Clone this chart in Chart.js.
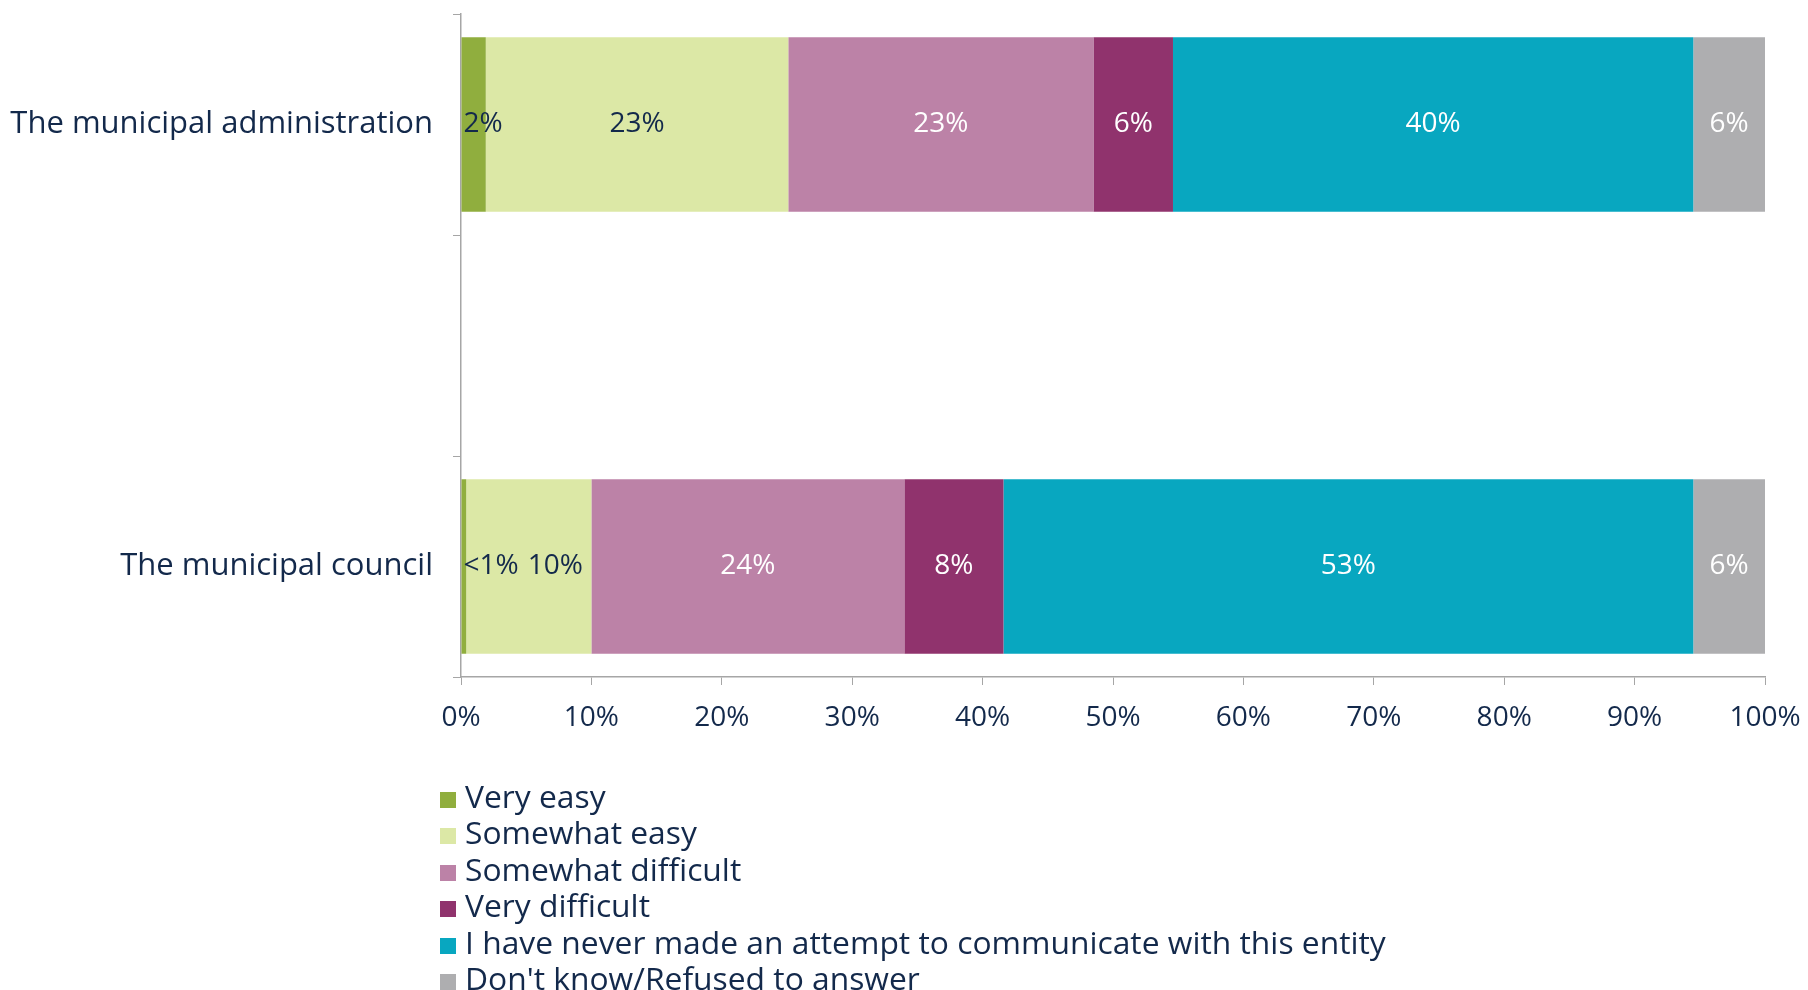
<!DOCTYPE html>
<html>
<head>
<meta charset="utf-8">
<script src="https://cdn.jsdelivr.net/npm/chart.js@4/dist/chart.umd.min.js"></script>
<style>
  body { margin: 0; background: #fff; }
  #wrap { position: relative; width: 1808px; height: 990px; }
  #legend { position: absolute; left: 440px; top: 778px; font-family: 'Open Sans', sans-serif; font-size: 31.8px; color: #13294b; }
  #legend div { height: 36.4px; line-height: 36.4px; white-space: nowrap; }
  #legend span { display: inline-block; width: 16px; height: 16px; margin-right: 9px; vertical-align: 0px; }
</style>
</head>
<body>
<div id="wrap">
  <canvas id="chart1" width="1808" height="990"></canvas>
  <div id="legend"></div>
</div>
<script>
// middle category is an empty spacer row, as in the original
const categories = ['The municipal administration', '', 'The municipal council'];
const seriesNames = ['Very easy', 'Somewhat easy', 'Somewhat difficult', 'Very difficult',
  'I have never made an attempt to communicate with this entity', "Don't know/Refused to answer"];
const veryEasy = [1.9, null, 0.4];
const somewhatEasy = [23.2, null, 9.6];
const somewhatDifficult = [23.4, null, 24.0];
const veryDifficult = [6.1, null, 7.6];
const neverAttempted = [39.9, null, 52.9];
const dontKnow = [5.5, null, 5.5];
const xTicks = [0, 10, 20, 30, 40, 50, 60, 70, 80, 90, 100];

const colors = ['#90ae3e', '#dce8a6', '#bc82a7', '#90336d', '#08a7c0', '#aeaeb0'];
const labelColors = ['#13294b', '#13294b', '#ffffff', '#ffffff', '#ffffff', '#ffffff'];
const textColor = '#13294b';
const font = "'Open Sans', sans-serif";

const values = [veryEasy, somewhatEasy, somewhatDifficult, veryDifficult, neverAttempted, dontKnow];

// value labels; tiny segments get a left-aligned label and neighbours are pushed right
const barLabels = {
    id: 'barLabels',
    afterDatasetsDraw(chart) {
        const c = chart.ctx;
        c.save();
        c.font = '28px ' + font;
        c.textBaseline = 'middle';
        const lastRight = {};
        chart.data.datasets.forEach((ds, i) => {
            const meta = chart.getDatasetMeta(i);
            meta.data.forEach((bar, j) => {
                const v = ds.data[j];
                if (v == null) return;
                const txt = v < 1 ? '<1%' : Math.round(v) + '%';
                const w = c.measureText(txt).width;
                let left = w > Math.abs(bar.x - bar.base) ? bar.base + 2 : (bar.x + bar.base) / 2 - w / 2;
                if (lastRight[j] != null && left < lastRight[j] + 9) left = lastRight[j] + 9;
                lastRight[j] = left + w;
                c.fillStyle = labelColors[i];
                c.textAlign = 'left';
                c.fillText(txt, left, bar.y);
            });
        });
        c.restore();
    }
};

const noPad = s => { s.paddingTop = 0; s.paddingBottom = 0; s.paddingLeft = 0; s.paddingRight = 0; };

const ctx = document.getElementById('chart1').getContext('2d');
const chart1 = new Chart(ctx, {
    type: 'bar',
    data: {
        labels: categories,
        datasets: seriesNames.map((name, i) => ({
            label: name,
            data: values[i],
            backgroundColor: colors[i],
            borderWidth: 0,
            categoryPercentage: 1,
            barPercentage: 0.79
        }))
    },
    options: {
        indexAxis: 'y',
        responsive: false,
        animation: false,
        layout: { padding: { top: 14, right: 43, bottom: 253, left: 0 } },
        scales: {
            x: {
                stacked: true,
                min: 0,
                max: 100,
                afterBuildTicks: s => { s.ticks = xTicks.map(v => ({ value: v })); },
                afterFit: s => { s.height = 60; noPad(s); },
                ticks: {
                    callback: v => v + '%',
                    color: textColor,
                    font: { family: font, size: 28 },
                    padding: 16,
                    maxRotation: 0
                },
                grid: { drawOnChartArea: false, tickLength: 8, color: '#a6a6a6' },
                border: { color: '#a6a6a6', width: 1.5 }
            },
            y: {
                stacked: true,
                afterFit: s => { s.width = 461; noPad(s); },
                ticks: {
                    color: textColor,
                    font: { family: font, size: 31 },
                    padding: 20
                },
                grid: { drawOnChartArea: false, tickLength: 8, color: '#a6a6a6', offset: true },
                border: { color: '#a6a6a6', width: 1.5 }
            }
        },
        plugins: {
            legend: { display: false },
            tooltip: { enabled: false }
        }
    },
    plugins: [barLabels]
});

document.getElementById('legend').innerHTML = seriesNames.map((n, i) =>
    '<div><span style="background:' + colors[i] + '"></span>' + n + '</div>').join('');
</script>
</body>
</html>
